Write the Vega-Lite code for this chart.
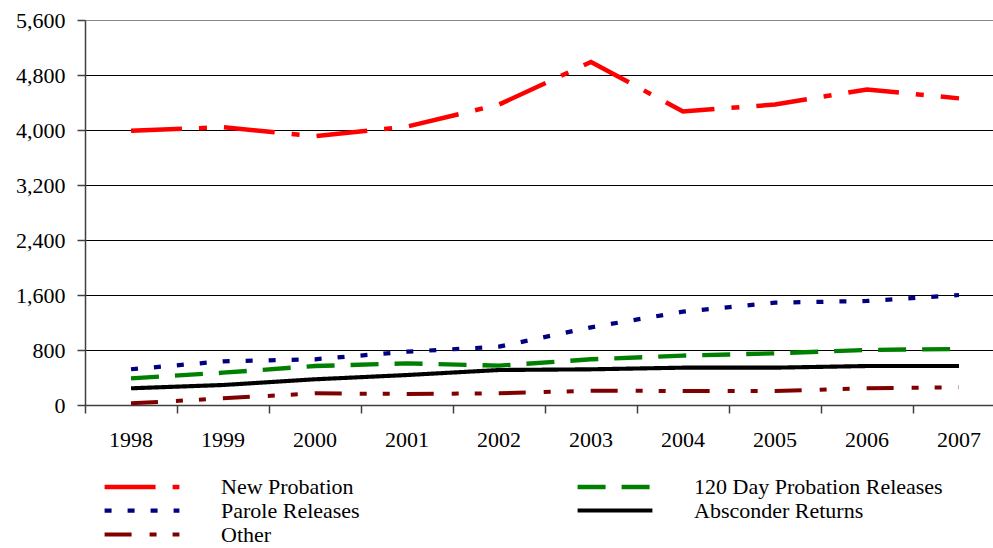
{
  "$schema": "https://vega.github.io/schema/vega-lite/v6.json",
  "autosize": {"type": "none"},
  "padding": {"left": 85, "top": 20, "right": 0, "bottom": 143},
  "width": 908,
  "height": 385,
  "background": "white",
  "config": {
    "view": {"stroke": null},
    "font": "Liberation Serif"
  },
  "data": {
    "values": [
      {"year": "1998", "series": "New Probation", "value": 3990},
      {"year": "1999", "series": "New Probation", "value": 4040},
      {"year": "2000", "series": "New Probation", "value": 3910},
      {"year": "2001", "series": "New Probation", "value": 4050},
      {"year": "2002", "series": "New Probation", "value": 4370},
      {"year": "2003", "series": "New Probation", "value": 4990},
      {"year": "2004", "series": "New Probation", "value": 4270},
      {"year": "2005", "series": "New Probation", "value": 4370},
      {"year": "2006", "series": "New Probation", "value": 4590},
      {"year": "2007", "series": "New Probation", "value": 4460},
      {"year": "1998", "series": "Parole Releases", "value": 520},
      {"year": "1999", "series": "Parole Releases", "value": 636},
      {"year": "2000", "series": "Parole Releases", "value": 665},
      {"year": "2001", "series": "Parole Releases", "value": 775},
      {"year": "2002", "series": "Parole Releases", "value": 848},
      {"year": "2003", "series": "Parole Releases", "value": 1130},
      {"year": "2004", "series": "Parole Releases", "value": 1357},
      {"year": "2005", "series": "Parole Releases", "value": 1488},
      {"year": "2006", "series": "Parole Releases", "value": 1513},
      {"year": "2007", "series": "Parole Releases", "value": 1600},
      {"year": "1998", "series": "120 Day Probation Releases", "value": 388},
      {"year": "1999", "series": "120 Day Probation Releases", "value": 470},
      {"year": "2000", "series": "120 Day Probation Releases", "value": 567},
      {"year": "2001", "series": "120 Day Probation Releases", "value": 606},
      {"year": "2002", "series": "120 Day Probation Releases", "value": 572},
      {"year": "2003", "series": "120 Day Probation Releases", "value": 665},
      {"year": "2004", "series": "120 Day Probation Releases", "value": 718},
      {"year": "2005", "series": "120 Day Probation Releases", "value": 752},
      {"year": "2006", "series": "120 Day Probation Releases", "value": 800},
      {"year": "2007", "series": "120 Day Probation Releases", "value": 815},
      {"year": "1998", "series": "Absconder Returns", "value": 243},
      {"year": "1999", "series": "Absconder Returns", "value": 291},
      {"year": "2000", "series": "Absconder Returns", "value": 374},
      {"year": "2001", "series": "Absconder Returns", "value": 436},
      {"year": "2002", "series": "Absconder Returns", "value": 509},
      {"year": "2003", "series": "Absconder Returns", "value": 519},
      {"year": "2004", "series": "Absconder Returns", "value": 543},
      {"year": "2005", "series": "Absconder Returns", "value": 543},
      {"year": "2006", "series": "Absconder Returns", "value": 567},
      {"year": "2007", "series": "Absconder Returns", "value": 567},
      {"year": "1998", "series": "Other", "value": 24},
      {"year": "1999", "series": "Other", "value": 97},
      {"year": "2000", "series": "Other", "value": 170},
      {"year": "2001", "series": "Other", "value": 160},
      {"year": "2002", "series": "Other", "value": 170},
      {"year": "2003", "series": "Other", "value": 208},
      {"year": "2004", "series": "Other", "value": 204},
      {"year": "2005", "series": "Other", "value": 204},
      {"year": "2006", "series": "Other", "value": 243},
      {"year": "2007", "series": "Other", "value": 257}
    ]
  },
  "mark": {"type": "line", "strokeCap": "butt", "strokeJoin": "miter"},
  "encoding": {
    "x": {
      "field": "year",
      "type": "ordinal",
      "bandPosition": 0.5,
      "scale": {"type": "band", "paddingInner": 0, "paddingOuter": 0, "range": [0, 920]},
      "axis": {
        "title": null,
        "bandPosition": 0,
        "labelOffset": 0,
        "labelAngle": 0,
        "labelFont": "Liberation Serif",
        "labelFontSize": 22,
        "labelColor": "#000",
        "labelPadding": 16,
        "tickSize": 8,
        "tickColor": "#404040",
        "tickWidth": 1.5,
        "domainColor": "#404040",
        "domainWidth": 1.5,
        "grid": false
      }
    },
    "y": {
      "field": "value",
      "type": "quantitative",
      "scale": {"domain": [0, 5600], "nice": false},
      "axis": {
        "title": null,
        "values": [0, 800, 1600, 2400, 3200, 4000, 4800, 5600],
        "format": ",d",
        "labelFont": "Liberation Serif",
        "labelFontSize": 22,
        "labelColor": "#000",
        "labelPadding": 12,
        "tickSize": 8,
        "tickColor": "#404040",
        "tickWidth": 1.5,
        "domainColor": "#404040",
        "domainWidth": 1.5,
        "grid": true,
        "gridColor": {"condition": {"test": "datum.value === 5600", "value": "#888888"}, "value": "#000000"},
        "gridWidth": 1
      }
    },
    "color": {
      "field": "series",
      "type": "nominal",
      "scale": {
        "domain": ["New Probation", "120 Day Probation Releases", "Parole Releases", "Absconder Returns", "Other"],
        "range": ["#FF0000", "#008000", "#000080", "#000000", "#800000"]
      },
      "legend": {
        "title": null,
        "orient": "none",
        "legendX": 45,
        "legendY": 455,
        "direction": "horizontal",
        "columns": 2,
        "columnPadding": 208,
        "rowPadding": 1,
        "symbolType": "M-4,0H4",
        "symbolSize": 350,
        "symbolStrokeWidth": 3.5,
        "labelFont": "Liberation Serif",
        "labelFontSize": 22,
        "labelColor": "#000",
        "labelOffset": 67,
        "labelLimit": 400
      }
    },
    "strokeDash": {
      "field": "series",
      "type": "nominal",
      "scale": {
        "domain": ["New Probation", "120 Day Probation Releases", "Parole Releases", "Absconder Returns", "Other"],
        "range": [[51, 17, 8, 17], [28, 16], [7, 16], [1, 0], [27, 18, 7, 16, 7, 17]]
      },
      "legend": null
    },
    "strokeWidth": {
      "field": "series",
      "type": "nominal",
      "scale": {
        "domain": ["New Probation", "120 Day Probation Releases", "Parole Releases", "Absconder Returns", "Other"],
        "range": [4.5, 4, 3.5, 3.2, 3.5]
      },
      "legend": null
    }
  }
}
